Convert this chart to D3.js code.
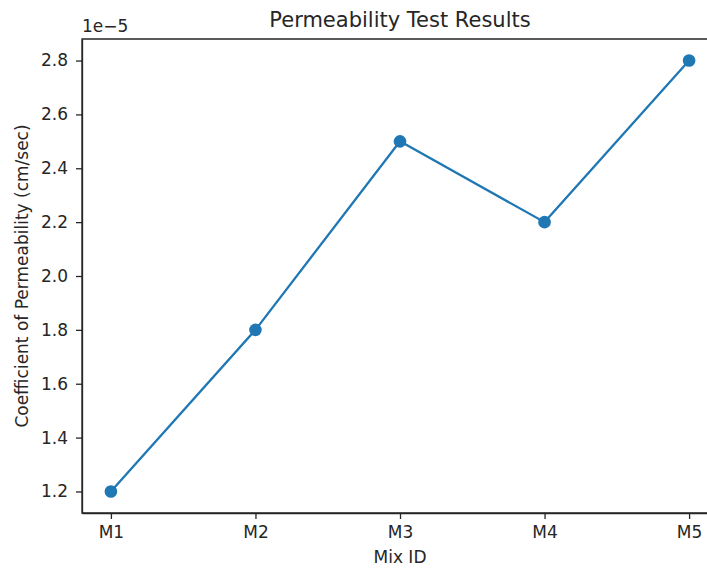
<html>
<head>
<script src="https://d3js.org/d3.v7.min.js"></script>
<style>
    body { margin: 0; background: #fff; }
    text { font-family: "DejaVu Sans", sans-serif; fill: #262626; }
    .axis text { font-size: 17px; }
    .axis path, .axis line { stroke: #262626; stroke-width: 1.3px; }
    .series { fill: none; stroke: #1f77b4; stroke-width: 2.3px; }
    .dot { fill: #1f77b4; }
</style>
</head>
<body>
<svg id="the-chart" width="707" height="569"></svg>
<script>
    var mixes = ['M1', 'M2', 'M3', 'M4', 'M5'];
    var permeability = [1.2e-5, 1.8e-5, 2.5e-5, 2.2e-5, 2.8e-5];
    var yTicks = [1.2e-5, 1.4e-5, 1.6e-5, 1.8e-5, 2.0e-5, 2.2e-5, 2.4e-5, 2.6e-5, 2.8e-5];

    var svg = d3.select('#the-chart');
    var plotLeft = 82, plotRight = 718, plotTop = 39, plotBottom = 513;

    // matplotlib style 5% margins
    var xscale = d3.scaleLinear().domain([-0.2, mixes.length - 1 + 0.2]).range([plotLeft, plotRight]);
    var ymin = d3.min(permeability), ymax = d3.max(permeability), pad = (ymax - ymin) * 0.05;
    var yscale = d3.scaleLinear().domain([ymin - pad, ymax + pad]).range([plotBottom, plotTop]);

    var xAxis = d3.axisBottom(xscale)
        .tickValues(d3.range(mixes.length))
        .tickFormat(function(i) { return mixes[i]; })
        .tickSize(6).tickPadding(7).tickSizeOuter(0);
    svg.append('g').attr('class', 'axis')
        .attr('transform', 'translate(0,' + plotBottom + ')')
        .call(xAxis);

    var yAxis = d3.axisLeft(yscale)
        .tickValues(yTicks)
        .tickFormat(function(d) { return (d * 1e5).toFixed(1); })
        .tickSize(6).tickPadding(8).tickSizeOuter(0);
    svg.append('g').attr('class', 'axis')
        .attr('transform', 'translate(' + plotLeft + ',0)')
        .call(yAxis);

    // spines
    svg.append('path')
        .attr('d', 'M' + plotLeft + ',' + plotBottom + 'V' + plotTop + 'H' + plotRight + 'V' + plotBottom + 'Z')
        .attr('fill', 'none').attr('stroke', '#262626').attr('stroke-width', 1.3);

    var line = d3.line()
        .x(function(d, i) { return xscale(i); })
        .y(function(d) { return yscale(d); });
    svg.append('path').datum(permeability).attr('class', 'series').attr('d', line);

    svg.selectAll('.dot').data(permeability).enter().append('circle')
        .attr('class', 'dot')
        .attr('cx', function(d, i) { return xscale(i); })
        .attr('cy', function(d) { return yscale(d); })
        .attr('r', 6.3);

    svg.append('text').attr('x', (plotLeft + plotRight) / 2).attr('y', 27)
        .attr('text-anchor', 'middle').style('font-size', '21px')
        .text('Permeability Test Results');

    svg.append('text').attr('x', plotLeft).attr('y', 32)
        .style('font-size', '17px').text('1e\u22125');

    svg.append('text').attr('x', (plotLeft + plotRight) / 2).attr('y', 563)
        .attr('text-anchor', 'middle').style('font-size', '17px')
        .text('Mix ID');

    svg.append('text')
        .attr('transform', 'translate(28,' + (plotTop + plotBottom) / 2 + ') rotate(-90)')
        .attr('text-anchor', 'middle').style('font-size', '17px')
        .text('Coefficient of Permeability (cm/sec)');
</script>
</body>
</html>
